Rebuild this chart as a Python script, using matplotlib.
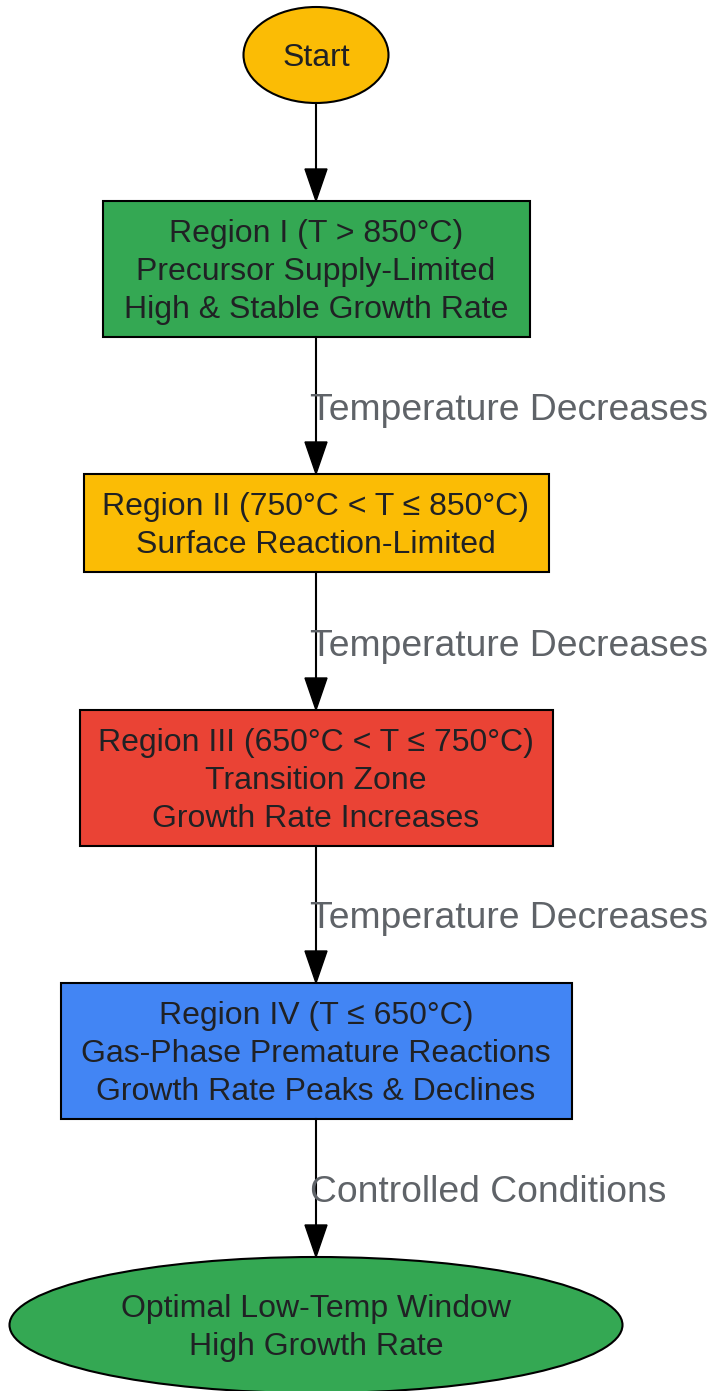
import matplotlib.pyplot as plt
from matplotlib.patches import Ellipse, Rectangle, Polygon

# Узлы схемы
node_labels = [
    ["Start"],
    ["Region I (T > 850°C)", "Precursor Supply-Limited", "High & Stable Growth Rate"],
    ["Region II (750°C < T ≤ 850°C)", "Surface Reaction-Limited"],
    ["Region III (650°C < T ≤ 750°C)", "Transition Zone", "Growth Rate Increases"],
    ["Region IV (T ≤ 650°C)", "Gas-Phase Premature Reactions", "Growth Rate Peaks & Declines"],
    ["Optimal Low-Temp Window", "High Growth Rate"],
]
node_shapes = ["ellipse", "box", "box", "box", "box", "ellipse"]
node_colors = ["#FBBC05", "#34A853", "#FBBC05", "#EA4335", "#4285F4", "#34A853"]

# Подписи рёбер (ребро k идёт от узла k к узлу k+1)
edge_labels = ["", "Temperature Decreases", "Temperature Decreases",
               "Temperature Decreases", "Controlled Conditions"]

# Раскладка в пикселях (центр y, ширина, высота)
cx = 316
node_cy = [55, 269, 523, 778, 1051, 1325]
node_w = [145, 427, 465, 473, 511, 613]
node_h = [96, 136, 98, 136, 136, 136]
edge_label_y = [0, 408, 643, 916, 1190]

W, H = 711, 1391
fig = plt.figure(figsize=(W / 100, H / 100), dpi=100)
ax = fig.add_axes([0, 0, 1, 1])
ax.set_xlim(0, W)
ax.set_ylim(H, 0)
ax.axis('off')

font = 'Liberation Sans'
line_h = 37.8
lw = 1.5
dy = 3  # поправка вертикального центрирования текста

for i in range(len(node_labels)):
    if node_shapes[i] == "ellipse":
        p = Ellipse((cx, node_cy[i]), node_w[i], node_h[i],
                    facecolor=node_colors[i], edgecolor='black', linewidth=lw)
    else:
        p = Rectangle((cx - node_w[i] / 2, node_cy[i] - node_h[i] / 2), node_w[i], node_h[i],
                      facecolor=node_colors[i], edgecolor='black', linewidth=lw)
    ax.add_patch(p)
    n = len(node_labels[i])
    for k, line in enumerate(node_labels[i]):
        y = node_cy[i] + (k - (n - 1) / 2) * line_h + dy
        ax.text(cx, y, line, ha='center', va='center', fontsize=23,
                family=[font, 'DejaVu Sans'], color='#202124')

# Стрелки между узлами
head_len = 32
head_w = 22
for k in range(len(edge_labels)):
    y0 = node_cy[k] + node_h[k] / 2
    y1 = node_cy[k + 1] - node_h[k + 1] / 2
    ax.plot([cx, cx], [y0, y1 - head_len + 2], color='black', linewidth=lw)
    tri = Polygon([[cx - head_w / 2, y1 - head_len], [cx + head_w / 2, y1 - head_len], [cx, y1]],
                  closed=True, facecolor='black', edgecolor='black', linewidth=1)
    ax.add_patch(tri)
    if edge_labels[k]:
        ax.text(310, edge_label_y[k] + dy, edge_labels[k], ha='left', va='center', fontsize=26.8,
                family=[font, 'DejaVu Sans'], color='#5F6368')

plt.savefig('out.png', dpi=100)
